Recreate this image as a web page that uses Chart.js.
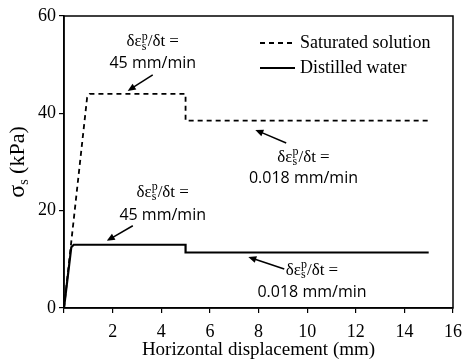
<!DOCTYPE html>
<html>
<head>
<meta charset="utf-8">
<script src="https://cdn.jsdelivr.net/npm/chart.js@4"></script>
<style>
  html, body { margin: 0; padding: 0; background: #fff; }
  #wrap { width: 464px; height: 361px; }
</style>
</head>
<body>
<div id="wrap"><canvas id="chart"></canvas></div>
<script>
// Saturated solution (dashed)
const satX = [0, 0.95, 1.05, 5, 5, 15];
const satY = [0, 43.2, 44, 44, 38.5, 38.5];
// Distilled water (solid)
const dwX = [0, 0.3, 0.4, 5, 5, 15];
const dwY = [0, 12.5, 13, 13, 11.4, 11.4];

const xTicks = [0, 2, 4, 6, 8, 10, 12, 14, 16];
const yTicks = [0, 20, 40, 60];

// rate labels, in data units: text centre, line ys, arrow start / end
const notes = [
    { x: 3.65, y1: 54.7, y2: 50.3, rate: '45 mm/min', from: [3.65, 47.9], to: [2.62, 44.6] },
    { x: 9.85, y1: 31.0, y2: 26.7, rate: '0.018 mm/min', from: [9.14, 33.9], to: [7.87, 36.6] },
    { x: 4.06, y1: 23.8, y2: 19.1, rate: '45 mm/min', from: [2.83, 16.9], to: [1.76, 13.8] },
    { x: 10.2, y1: 7.8, y2: 3.1, rate: '0.018 mm/min', from: [9.06, 8.0], to: [7.58, 10.5] }
];

const SERIF = '"Liberation Serif", "Times New Roman", serif';
const SANS = '"Open Sans", "Liberation Sans", sans-serif';

function toPoints(xs, ys) {
    return xs.map((x, i) => ({ x, y: ys[i] }));
}

function drawRate(ctx, cx, cy) {
    // δε with stacked p / s, then /δt =
    const a = 'δε', b = '/δt =';
    ctx.font = '17px ' + SERIF;
    const wa = ctx.measureText(a).width;
    const wb = ctx.measureText(b).width;
    ctx.font = '12px ' + SERIF;
    const ws = Math.max(ctx.measureText('p').width, ctx.measureText('s').width);
    let x = cx - (wa + ws + wb) / 2;
    ctx.textAlign = 'left';
    ctx.textBaseline = 'middle';
    ctx.font = '17px ' + SERIF;
    ctx.fillText(a, x, cy);
    x += wa;
    ctx.font = '12px ' + SERIF;
    ctx.fillText('p', x, cy - 5);
    ctx.fillText('s', x, cy + 5);
    x += ws;
    ctx.font = '17px ' + SERIF;
    ctx.fillText(b, x, cy);
}

function drawArrow(ctx, x1, y1, x2, y2) {
    const ang = Math.atan2(y2 - y1, x2 - x1);
    const len = 8, wid = 3.5;
    ctx.beginPath();
    ctx.moveTo(x1, y1);
    ctx.lineTo(x2 - Math.cos(ang) * len * 0.8, y2 - Math.sin(ang) * len * 0.8);
    ctx.lineWidth = 1.5;
    ctx.stroke();
    ctx.beginPath();
    ctx.moveTo(x2, y2);
    ctx.lineTo(x2 - Math.cos(ang) * len - Math.sin(ang) * wid, y2 - Math.sin(ang) * len + Math.cos(ang) * wid);
    ctx.lineTo(x2 - Math.cos(ang) * len + Math.sin(ang) * wid, y2 - Math.sin(ang) * len - Math.cos(ang) * wid);
    ctx.closePath();
    ctx.fill();
}

const decorPlugin = {
    id: 'decor',
    afterDraw(chart) {
        const { ctx, chartArea: area, scales: { x: xs, y: ys } } = chart;
        ctx.save();
        ctx.strokeStyle = '#000';
        ctx.fillStyle = '#000';

        // box around plot
        ctx.lineWidth = 1.5;
        ctx.strokeRect(area.left, area.top, area.right - area.left, area.bottom - area.top);

        notes.forEach(n => {
            const cx = xs.getPixelForValue(n.x);
            drawRate(ctx, cx, ys.getPixelForValue(n.y1));
            ctx.font = '16px ' + SANS;
            ctx.textAlign = 'center';
            ctx.textBaseline = 'middle';
            ctx.fillText(n.rate, cx, ys.getPixelForValue(n.y2));
            drawArrow(ctx,
                xs.getPixelForValue(n.from[0]), ys.getPixelForValue(n.from[1]),
                xs.getPixelForValue(n.to[0]), ys.getPixelForValue(n.to[1]));
        });

        // legend
        const lx = 260, lw = 35;
        chart.data.datasets.forEach((ds, i) => {
            const y = 43 + i * 25;
            ctx.beginPath();
            ctx.setLineDash(ds.borderDash || []);
            ctx.lineWidth = ds.borderWidth;
            ctx.moveTo(lx, y);
            ctx.lineTo(lx + lw, y);
            ctx.stroke();
            ctx.setLineDash([]);
            ctx.font = '18px ' + SERIF;
            ctx.textAlign = 'left';
            ctx.textBaseline = 'middle';
            ctx.fillText(ds.label, lx + lw + 5, y);
        });

        // y-axis title: σs (kPa)
        ctx.translate(18, (area.top + area.bottom) / 2);
        ctx.rotate(-Math.PI / 2);
        ctx.textBaseline = 'middle';
        ctx.textAlign = 'left';
        ctx.font = '24px ' + SERIF;
        const w1 = ctx.measureText('σ').width;
        ctx.font = '14px ' + SERIF;
        const w2 = ctx.measureText('s').width;
        ctx.font = '22px ' + SERIF;
        const w3 = ctx.measureText(' (kPa)').width;
        let x = -(w1 + w2 + w3) / 2;
        ctx.font = '24px ' + SERIF;
        ctx.fillText('σ', x, 0);
        x += w1;
        ctx.font = '14px ' + SERIF;
        ctx.fillText('s', x, 6);
        x += w2;
        ctx.font = '22px ' + SERIF;
        ctx.fillText(' (kPa)', x, 0);
        ctx.restore();
    }
};

new Chart(document.getElementById('chart'), {
    type: 'line',
    data: {
        datasets: [
            {
                label: 'Saturated solution',
                data: toPoints(satX, satY),
                borderColor: '#000',
                borderWidth: 1.8,
                borderDash: [5, 4],
                pointRadius: 0,
                fill: false,
                tension: 0
            },
            {
                label: 'Distilled water',
                data: toPoints(dwX, dwY),
                borderColor: '#000',
                borderWidth: 2.2,
                pointRadius: 0,
                fill: false,
                tension: 0
            }
        ]
    },
    options: {
        responsive: true,
        maintainAspectRatio: false,
        animation: false,
        layout: { padding: { top: 16, right: 11, left: 0, bottom: 0 } },
        plugins: { legend: { display: false }, tooltip: { enabled: false } },
        scales: {
            x: {
                type: 'linear',
                min: 0, max: 16,
                afterBuildTicks: s => { s.ticks = xTicks.map(v => ({ value: v })); },
                afterFit: s => { s.height = 53; s.paddingLeft = 0; s.paddingRight = 0; },
                grid: { drawOnChartArea: false, tickLength: 5, color: '#000', lineWidth: 1.2 },
                border: { color: '#000', width: 1.5 },
                ticks: {
                    color: '#000', padding: 8, maxRotation: 0,
                    font: { family: SERIF, size: 18 },
                    callback: v => v === 0 ? '' : v
                },
                title: {
                    display: true, text: 'Horizontal displacement (mm)',
                    color: '#000', font: { family: SERIF, size: 19 }, padding: { top: 0, bottom: 0 }
                }
            },
            y: {
                min: 0, max: 60,
                afterBuildTicks: s => { s.ticks = yTicks.map(v => ({ value: v })); },
                afterFit: s => { s.width = 64; s.paddingTop = 0; s.paddingBottom = 0; },
                grid: { drawOnChartArea: false, tickLength: 5, color: '#000', lineWidth: 1.2 },
                border: { color: '#000', width: 1.5 },
                ticks: { color: '#000', padding: 3, font: { family: SERIF, size: 18 } }
            }
        }
    },
    plugins: [decorPlugin]
});
</script>
</body>
</html>
